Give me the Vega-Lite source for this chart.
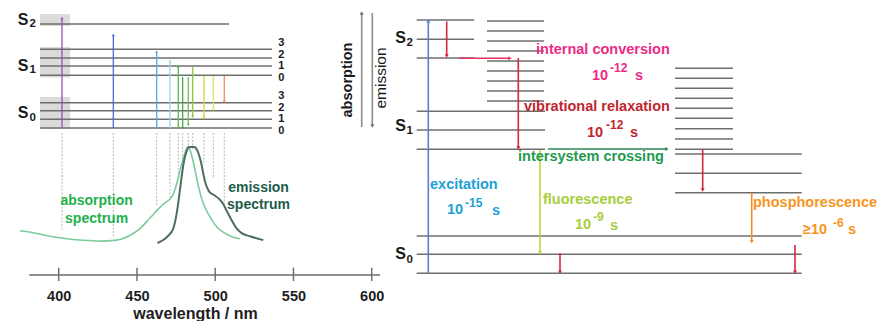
{
  "$schema": "https://vega.github.io/schema/vega-lite/v6.json",
  "width": 878,
  "height": 321,
  "autosize": {"type": "none"},
  "padding": 0,
  "background": "white",
  "config": {"view": {"stroke": null}, "font": "Liberation Sans"},
  "datasets": {
    "spectra": [
      {"kind": "absorption", "nm": 375.3, "a": 0.128},
      {"kind": "absorption", "nm": 383.8, "a": 0.107},
      {"kind": "absorption", "nm": 394.4, "a": 0.07},
      {"kind": "absorption", "nm": 405.1, "a": 0.045},
      {"kind": "absorption", "nm": 415.7, "a": 0.028},
      {"kind": "absorption", "nm": 426.4, "a": 0.02},
      {"kind": "absorption", "nm": 437.1, "a": 0.03},
      {"kind": "absorption", "nm": 445.6, "a": 0.08},
      {"kind": "absorption", "nm": 451.9, "a": 0.15},
      {"kind": "absorption", "nm": 458.3, "a": 0.26},
      {"kind": "absorption", "nm": 463.4, "a": 0.35},
      {"kind": "absorption", "nm": 467.2, "a": 0.41},
      {"kind": "absorption", "nm": 470.2, "a": 0.445},
      {"kind": "absorption", "nm": 471.8, "a": 0.47},
      {"kind": "absorption", "nm": 473.7, "a": 0.53},
      {"kind": "absorption", "nm": 475.6, "a": 0.63},
      {"kind": "absorption", "nm": 477.5, "a": 0.75},
      {"kind": "absorption", "nm": 479.2, "a": 0.86},
      {"kind": "absorption", "nm": 480.7, "a": 0.94},
      {"kind": "absorption", "nm": 482.3, "a": 1.0},
      {"kind": "absorption", "nm": 483.9, "a": 0.97},
      {"kind": "absorption", "nm": 485.5, "a": 0.88},
      {"kind": "absorption", "nm": 487.1, "a": 0.76},
      {"kind": "absorption", "nm": 489.0, "a": 0.61},
      {"kind": "absorption", "nm": 491.2, "a": 0.47},
      {"kind": "absorption", "nm": 493.5, "a": 0.37},
      {"kind": "absorption", "nm": 495.7, "a": 0.3},
      {"kind": "absorption", "nm": 498.6, "a": 0.22},
      {"kind": "absorption", "nm": 501.2, "a": 0.165},
      {"kind": "absorption", "nm": 504.3, "a": 0.12},
      {"kind": "absorption", "nm": 507.5, "a": 0.09},
      {"kind": "absorption", "nm": 511.4, "a": 0.06},
      {"kind": "absorption", "nm": 515.8, "a": 0.045},
      {"kind": "emission", "nm": 463.1, "a": 0.0},
      {"kind": "emission", "nm": 466.8, "a": 0.031},
      {"kind": "emission", "nm": 469.8, "a": 0.073},
      {"kind": "emission", "nm": 473.2, "a": 0.15},
      {"kind": "emission", "nm": 475.9, "a": 0.36},
      {"kind": "emission", "nm": 478.0, "a": 0.62},
      {"kind": "emission", "nm": 479.8, "a": 0.83},
      {"kind": "emission", "nm": 481.8, "a": 0.96},
      {"kind": "emission", "nm": 483.5, "a": 1.0},
      {"kind": "emission", "nm": 486.5, "a": 1.0},
      {"kind": "emission", "nm": 488.7, "a": 0.96},
      {"kind": "emission", "nm": 490.8, "a": 0.85},
      {"kind": "emission", "nm": 493.5, "a": 0.64},
      {"kind": "emission", "nm": 496.4, "a": 0.53},
      {"kind": "emission", "nm": 499.2, "a": 0.5},
      {"kind": "emission", "nm": 502.4, "a": 0.46},
      {"kind": "emission", "nm": 505.0, "a": 0.41},
      {"kind": "emission", "nm": 507.5, "a": 0.33},
      {"kind": "emission", "nm": 510.4, "a": 0.24},
      {"kind": "emission", "nm": 513.3, "a": 0.16},
      {"kind": "emission", "nm": 517.1, "a": 0.1},
      {"kind": "emission", "nm": 522.2, "a": 0.07},
      {"kind": "emission", "nm": 530.7, "a": 0.03}
    ],
    "spectrumLabels": [
      {"kind": "absorption", "text": "absorption", "nm": 424.2, "a": 0.435},
      {"kind": "absorption", "text": "spectrum", "nm": 424.2, "a": 0.255},
      {"kind": "emission", "text": "emission", "nm": 527.7, "a": 0.575},
      {"kind": "emission", "text": "spectrum", "nm": 527.7, "a": 0.4}
    ],
    "ticks": [{"nm": 400}, {"nm": 450}, {"nm": 500}, {"nm": 550}, {"nm": 600}],
    "axisLine": [{"from": 381.2, "to": 605.3}],
    "levelsL": [
      {"state": "S2", "v": 0, "nm0": 388.1, "nm1": 508.8, "e": 10.4},
      {"state": "S1", "v": 3, "nm0": 388.1, "nm1": 536.3, "e": 7.87},
      {"state": "S1", "v": 2, "nm0": 388.1, "nm1": 536.3, "e": 7.0},
      {"state": "S1", "v": 1, "nm0": 388.1, "nm1": 536.3, "e": 6.2},
      {"state": "S1", "v": 0, "nm0": 388.1, "nm1": 536.3, "e": 5.27},
      {"state": "S0", "v": 3, "nm0": 388.1, "nm1": 536.3, "e": 2.53},
      {"state": "S0", "v": 2, "nm0": 388.1, "nm1": 536.3, "e": 1.73},
      {"state": "S0", "v": 1, "nm0": 388.1, "nm1": 536.3, "e": 0.87},
      {"state": "S0", "v": 0, "nm0": 388.1, "nm1": 536.3, "e": 0.0}
    ],
    "bandsL": [
      {"state": "S2", "nm0": 388.1, "nm1": 407.3, "e0": 11.4, "e1": 10.2},
      {"state": "S1", "nm0": 388.1, "nm1": 407.3, "e0": 8.1, "e1": 5.05},
      {"state": "S0", "nm0": 388.1, "nm1": 407.3, "e0": 3.1, "e1": -0.1}
    ],
    "transL": [
      {"wl": 402.1, "e0": 0, "e1": 11.0, "dir": "up"},
      {"wl": 434.9, "e0": 0, "e1": 9.3, "dir": "up"},
      {"wl": 462.6, "e0": 0, "e1": 7.63, "dir": "up"},
      {"wl": 471.1, "e0": 0, "e1": 6.7, "dir": "up"},
      {"wl": 476.4, "e0": 0, "e1": 6.13, "dir": "up"},
      {"wl": 479.2, "e0": 5.1, "e1": 0.0, "dir": "down"},
      {"wl": 482.8, "e0": 5.1, "e1": 0.3, "dir": "down"},
      {"wl": 485.6, "e0": 6.13, "e1": 1.13, "dir": "down"},
      {"wl": 492.8, "e0": 5.2, "e1": 1.0, "dir": "down"},
      {"wl": 498.8, "e0": 5.2, "e1": 1.8, "dir": "down"},
      {"wl": 505.8, "e0": 5.2, "e1": 2.63, "dir": "down"}
    ],
    "guidesL": [
      {"wl": 402.1, "e0": -0.5, "e1": -10.2},
      {"wl": 434.9, "e0": -0.5, "e1": -10.9},
      {"wl": 462.6, "e0": -0.5, "e1": -7.7},
      {"wl": 471.1, "e0": -0.5, "e1": -7.0},
      {"wl": 476.4, "e0": -0.5, "e1": -5.0},
      {"wl": 479.2, "e0": -0.5, "e1": -3.8},
      {"wl": 482.8, "e0": -0.5, "e1": -2.2},
      {"wl": 485.6, "e0": -0.5, "e1": -2.2},
      {"wl": 492.8, "e0": -0.5, "e1": -3.7},
      {"wl": 498.8, "e0": -0.5, "e1": -5.0},
      {"wl": 505.8, "e0": -0.5, "e1": -7.6}
    ],
    "labelsL": [
      {"kind": "S", "text": "S", "nm": 380.7, "e": 10.8},
      {"kind": "sub", "text": "2", "nm": 381.3, "e": 10.4},
      {"kind": "S", "text": "S", "nm": 380.7, "e": 6.2},
      {"kind": "sub", "text": "1", "nm": 381.3, "e": 5.85},
      {"kind": "S", "text": "S", "nm": 380.7, "e": 1.5},
      {"kind": "sub", "text": "0", "nm": 381.3, "e": 1.0},
      {"kind": "num", "text": "3", "nm": 542.2, "e": 8.5},
      {"kind": "num", "text": "2", "nm": 542.2, "e": 7.35},
      {"kind": "num", "text": "1", "nm": 542.2, "e": 6.2},
      {"kind": "num", "text": "0", "nm": 542.2, "e": 5.05},
      {"kind": "num", "text": "3", "nm": 542.2, "e": 3.18},
      {"kind": "num", "text": "2", "nm": 542.2, "e": 2.03},
      {"kind": "num", "text": "1", "nm": 542.2, "e": 0.88},
      {"kind": "num", "text": "0", "nm": 542.2, "e": -0.27}
    ],
    "levelsR": [
      {"state": "S2", "x0": 0, "x1": 5.73, "e": 25.33},
      {"state": "S2", "x0": 0, "x1": 5.73, "e": 23.4},
      {"state": "S2", "x0": 0, "x1": 5.73, "e": 21.53},
      {"state": "S1*", "x0": 7.03, "x1": 12.73, "e": 25.23},
      {"state": "S1*", "x0": 7.03, "x1": 12.73, "e": 24.23},
      {"state": "S1*", "x0": 7.03, "x1": 12.73, "e": 23.23},
      {"state": "S1*", "x0": 7.03, "x1": 12.73, "e": 22.23},
      {"state": "S1*", "x0": 7.03, "x1": 12.73, "e": 21.23},
      {"state": "S1*", "x0": 7.03, "x1": 12.73, "e": 20.23},
      {"state": "S1*", "x0": 7.03, "x1": 12.73, "e": 19.23},
      {"state": "S1*", "x0": 7.03, "x1": 12.73, "e": 18.23},
      {"state": "S1*", "x0": 7.03, "x1": 12.73, "e": 17.23},
      {"state": "S1", "x0": 0, "x1": 12.83, "e": 16.2},
      {"state": "S1", "x0": 0, "x1": 12.83, "e": 14.33},
      {"state": "S1", "x0": 0, "x1": 12.83, "e": 12.4},
      {"state": "T1*", "x0": 25.83, "x1": 31.63, "e": 20.5},
      {"state": "T1*", "x0": 25.83, "x1": 31.63, "e": 19.5},
      {"state": "T1*", "x0": 25.83, "x1": 31.63, "e": 18.5},
      {"state": "T1*", "x0": 25.83, "x1": 31.63, "e": 17.5},
      {"state": "T1*", "x0": 25.83, "x1": 31.63, "e": 16.5},
      {"state": "T1*", "x0": 25.83, "x1": 31.63, "e": 15.5},
      {"state": "T1*", "x0": 25.83, "x1": 31.63, "e": 14.45},
      {"state": "T1*", "x0": 25.83, "x1": 31.63, "e": 13.43},
      {"state": "T1*", "x0": 25.83, "x1": 31.63, "e": 12.4},
      {"state": "T1", "x0": 25.83, "x1": 38.5, "e": 11.93},
      {"state": "T1", "x0": 25.83, "x1": 38.5, "e": 10.0},
      {"state": "T1", "x0": 25.83, "x1": 38.5, "e": 8.06},
      {"state": "S0", "x0": 0, "x1": 38.5, "e": 3.73},
      {"state": "S0", "x0": 0, "x1": 38.5, "e": 1.9},
      {"state": "S0", "x0": 0, "x1": 38.5, "e": 0}
    ],
    "arrowsR": [
      {"process": "excitation", "x0": 1.16, "e0": 0, "x1": 1.16, "e1": 25.23, "dir": "up"},
      {"process": "relaxation", "x0": 3.0, "e0": 25.18, "x1": 3.0, "e1": 21.73, "dir": "down"},
      {"process": "conversion", "x0": 4.26, "e0": 21.5, "x1": 9.33, "e1": 21.5, "dir": "right"},
      {"process": "relaxation", "x0": 10.16, "e0": 21.53, "x1": 10.16, "e1": 12.53, "dir": "down"},
      {"process": "crossing", "x0": 13.13, "e0": 12.43, "x1": 25.03, "e1": 12.43, "dir": "right"},
      {"process": "fluorescence", "x0": 12.33, "e0": 12.33, "x1": 12.33, "e1": 2.06, "dir": "down"},
      {"process": "relaxation", "x0": 14.33, "e0": 2.0, "x1": 14.33, "e1": 0.1, "dir": "down"},
      {"process": "relaxation", "x0": 28.6, "e0": 12.4, "x1": 28.6, "e1": 8.33, "dir": "down"},
      {"process": "phosphorescence", "x0": 33.5, "e0": 8.0, "x1": 33.5, "e1": 3.16, "dir": "down"},
      {"process": "relaxation", "x0": 37.83, "e0": 2.83, "x1": 37.83, "e1": 0.1, "dir": "down"},
      {"process": "absorption", "x0": -5.5, "e0": 14.63, "x1": -5.5, "e1": 26.03, "dir": "up"},
      {"process": "emission", "x0": -4.44, "e0": 26.03, "x1": -4.44, "e1": 14.73, "dir": "down"}
    ],
    "textR": [
      {"process": "conversion", "kind": "main", "text": "internal conversion", "x": 11.93, "e": 22.33},
      {"process": "conversion", "kind": "main", "text": "10", "x": 17.53, "e": 19.73},
      {"process": "conversion", "kind": "sup", "text": "-12", "x": 19.33, "e": 20.53},
      {"process": "conversion", "kind": "main", "text": "s", "x": 21.83, "e": 19.73},
      {"process": "relaxation", "kind": "main", "text": "vibrational relaxation", "x": 10.73, "e": 16.63},
      {"process": "relaxation", "kind": "main", "text": "10", "x": 17.03, "e": 14.06},
      {"process": "relaxation", "kind": "sup", "text": "-12", "x": 18.93, "e": 14.83},
      {"process": "relaxation", "kind": "main", "text": "s", "x": 21.33, "e": 14.06},
      {"process": "crossing", "kind": "main", "text": "intersystem crossing", "x": 10.13, "e": 11.6},
      {"process": "excitation", "kind": "main", "text": "excitation", "x": 1.33, "e": 8.83},
      {"process": "excitation", "kind": "main", "text": "10", "x": 3.03, "e": 6.33},
      {"process": "excitation", "kind": "sup", "text": "-15", "x": 4.83, "e": 7.06},
      {"process": "excitation", "kind": "main", "text": "s", "x": 7.53, "e": 6.26},
      {"process": "fluorescence", "kind": "main", "text": "fluorescence", "x": 12.63, "e": 7.33},
      {"process": "fluorescence", "kind": "main", "text": "10", "x": 15.83, "e": 4.83},
      {"process": "fluorescence", "kind": "sup", "text": "-9", "x": 17.63, "e": 5.63},
      {"process": "fluorescence", "kind": "main", "text": "s", "x": 19.33, "e": 4.73},
      {"process": "phosphorescence", "kind": "main", "text": "phosphorescence", "x": 33.63, "e": 7.0},
      {"process": "phosphorescence", "kind": "main", "text": "≥10", "x": 38.63, "e": 4.33},
      {"process": "phosphorescence", "kind": "sup", "text": "-6", "x": 41.63, "e": 5.06},
      {"process": "phosphorescence", "kind": "main", "text": "s", "x": 43.13, "e": 4.33}
    ],
    "labelsR": [
      {"kind": "S", "text": "S", "x": -1.07, "e": 23.58},
      {"kind": "sub", "text": "2", "x": -1.02, "e": 23.08},
      {"kind": "S", "text": "S", "x": -1.07, "e": 14.78},
      {"kind": "sub", "text": "1", "x": -1.02, "e": 14.23},
      {"kind": "S", "text": "S", "x": -1.07, "e": 1.93},
      {"kind": "sub", "text": "0", "x": -1.02, "e": 1.38}
    ],
    "sideR": [
      {"kind": "absorption", "text": "absorption", "x": -6.87, "e": 19.33},
      {"kind": "emission", "text": "emission", "x": -3.57, "e": 19.53}
    ]
  },
  "layer": [
    {
      "data": {"name": "bandsL"},
      "mark": {"type": "rect", "color": "#bdbdbd", "opacity": 0.55},
      "encoding": {
        "x": {"field": "nm0", "type": "quantitative", "scale": {"domain": [362.49, 923.5], "nice": false, "zero": false}, "axis": null},
        "x2": {"field": "nm1"},
        "y": {"field": "e0", "type": "quantitative", "scale": {"domain": [-19.3, 12.8], "nice": false, "zero": false}, "axis": null},
        "y2": {"field": "e1"}
      }
    },
    {
      "data": {"name": "levelsL"},
      "mark": {"type": "rule", "color": "#6e6e6e", "strokeWidth": 1.4},
      "encoding": {
        "x": {"field": "nm0", "type": "quantitative", "scale": {"domain": [362.49, 923.5], "nice": false, "zero": false}, "axis": null},
        "x2": {"field": "nm1"},
        "y": {"field": "e", "type": "quantitative", "scale": {"domain": [-19.3, 12.8], "nice": false, "zero": false}, "axis": null}
      }
    },
    {
      "data": {"name": "guidesL"},
      "mark": {"type": "rule", "color": "#a4a4a4", "strokeWidth": 0.8, "strokeDash": [2, 1.5]},
      "encoding": {
        "x": {"field": "wl", "type": "quantitative", "scale": {"domain": [362.49, 923.5], "nice": false, "zero": false}, "axis": null},
        "y": {"field": "e0", "type": "quantitative", "scale": {"domain": [-19.3, 12.8], "nice": false, "zero": false}, "axis": null},
        "y2": {"field": "e1"}
      }
    },
    {
      "data": {"name": "transL"},
      "mark": {"type": "rule", "strokeWidth": 1.3},
      "encoding": {
        "x": {"field": "wl", "type": "quantitative", "scale": {"domain": [362.49, 923.5], "nice": false, "zero": false}, "axis": null},
        "y": {"field": "e0", "type": "quantitative", "scale": {"domain": [-19.3, 12.8], "nice": false, "zero": false}, "axis": null},
        "y2": {"field": "e1"},
        "color": {"field": "wl", "type": "ordinal", "legend": null,
          "scale": {"domain": [402.1, 434.9, 462.6, 471.1, 476.4, 479.2, 482.8, 485.6, 492.8, 498.8, 505.8],
                    "range": ["#9450b4", "#4b6ed6", "#5ba6e4", "#9ad5ec", "#55bb4a", "#45b04a", "#6dc24c", "#8fc640", "#c8da2e", "#dfe35a", "#f48a62"]}}
      }
    },
    {
      "data": {"name": "transL"},
      "mark": {"type": "point", "filled": true, "opacity": 1, "size": 9},
      "encoding": {
        "x": {"field": "wl", "type": "quantitative", "scale": {"domain": [362.49, 923.5], "nice": false, "zero": false}, "axis": null},
        "y": {"field": "e1", "type": "quantitative", "scale": {"domain": [-19.3, 12.8], "nice": false, "zero": false}, "axis": null},
        "shape": {"field": "dir", "type": "nominal", "legend": null,
          "scale": {"domain": ["up", "down", "right"], "range": ["triangle-up", "triangle-down", "triangle-right"]}},
        "color": {"field": "wl", "type": "ordinal", "legend": null,
          "scale": {"domain": [402.1, 434.9, 462.6, 471.1, 476.4, 479.2, 482.8, 485.6, 492.8, 498.8, 505.8],
                    "range": ["#9450b4", "#4b6ed6", "#5ba6e4", "#9ad5ec", "#55bb4a", "#45b04a", "#6dc24c", "#8fc640", "#c8da2e", "#dfe35a", "#f48a62"]}}
      }
    },
    {
      "data": {"name": "labelsL"},
      "transform": [{"filter": "datum.kind == 'S'"}],
      "mark": {"type": "text", "font": "Liberation Sans", "fontWeight": "bold", "fontSize": 16, "align": "right", "baseline": "middle", "color": "#1a1a1a"},
      "encoding": {
        "x": {"field": "nm", "type": "quantitative", "scale": {"domain": [362.49, 923.5], "nice": false, "zero": false}, "axis": null},
        "y": {"field": "e", "type": "quantitative", "scale": {"domain": [-19.3, 12.8], "nice": false, "zero": false}, "axis": null},
        "text": {"field": "text"}
      }
    },
    {
      "data": {"name": "labelsL"},
      "transform": [{"filter": "datum.kind == 'sub'"}],
      "mark": {"type": "text", "font": "Liberation Sans", "fontWeight": "bold", "fontSize": 11.5, "align": "left", "baseline": "middle", "color": "#1a1a1a"},
      "encoding": {
        "x": {"field": "nm", "type": "quantitative", "scale": {"domain": [362.49, 923.5], "nice": false, "zero": false}, "axis": null},
        "y": {"field": "e", "type": "quantitative", "scale": {"domain": [-19.3, 12.8], "nice": false, "zero": false}, "axis": null},
        "text": {"field": "text"}
      }
    },
    {
      "data": {"name": "labelsL"},
      "transform": [{"filter": "datum.kind == 'num'"}],
      "mark": {"type": "text", "font": "Liberation Sans", "fontWeight": "bold", "fontSize": 11, "align": "center", "baseline": "middle", "color": "#1a1a1a"},
      "encoding": {
        "x": {"field": "nm", "type": "quantitative", "scale": {"domain": [362.49, 923.5], "nice": false, "zero": false}, "axis": null},
        "y": {"field": "e", "type": "quantitative", "scale": {"domain": [-19.3, 12.8], "nice": false, "zero": false}, "axis": null},
        "text": {"field": "text"}
      }
    },
    {
      "data": {"name": "spectra"},
      "transform": [{"filter": "datum.kind == 'absorption'"}],
      "mark": {"type": "line", "interpolate": "monotone", "color": "#7ccb9d", "strokeWidth": 1.6},
      "encoding": {
        "x": {"field": "nm", "type": "quantitative", "scale": {"domain": [362.49, 923.5], "nice": false, "zero": false},
          "axis": {"orient": "bottom", "offset": -46, "values": [400, 450, 500, 550, 600], "domain": false, "ticks": false, "tickSize": 0, "grid": false,
                   "labelFont": "Liberation Sans", "labelFontSize": 14.5, "labelFontWeight": "bold", "labelColor": "#1e1e1e",
                   "labelBaseline": "alphabetic", "labelPadding": 25, "labelFlush": false, "labelOverlap": false,
                   "title": "wavelength / nm", "titleFont": "Liberation Sans", "titleFontSize": 16, "titleFontWeight": "bold", "titleColor": "#1e1e1e",
                   "titleX": 195, "titleY": 43, "titleAlign": "center", "titleBaseline": "alphabetic"}},
        "y": {"field": "a", "type": "quantitative", "scale": {"domain": [-0.8125, 2.53125], "nice": false, "zero": false}, "axis": null}
      }
    },
    {
      "data": {"name": "spectra"},
      "transform": [{"filter": "datum.kind == 'emission'"}],
      "mark": {"type": "line", "interpolate": "monotone", "color": "#4d6d61", "strokeWidth": 2},
      "encoding": {
        "x": {"field": "nm", "type": "quantitative", "scale": {"domain": [362.49, 923.5], "nice": false, "zero": false}, "axis": null},
        "y": {"field": "a", "type": "quantitative", "scale": {"domain": [-0.8125, 2.53125], "nice": false, "zero": false}, "axis": null}
      }
    },
    {
      "data": {"name": "axisLine"},
      "mark": {"type": "rule", "color": "#6a6a6a", "strokeWidth": 1.6},
      "encoding": {
        "x": {"field": "from", "type": "quantitative", "scale": {"domain": [362.49, 923.5], "nice": false, "zero": false}, "axis": null},
        "x2": {"field": "to"},
        "y": {"datum": -0.333, "type": "quantitative", "scale": {"domain": [-0.8125, 2.53125], "nice": false, "zero": false}, "axis": null}
      }
    },
    {
      "data": {"name": "ticks"},
      "mark": {"type": "rule", "color": "#6a6a6a", "strokeWidth": 1.4},
      "encoding": {
        "x": {"field": "nm", "type": "quantitative", "scale": {"domain": [362.49, 923.5], "nice": false, "zero": false}, "axis": null},
        "y": {"datum": -0.257, "type": "quantitative", "scale": {"domain": [-0.8125, 2.53125], "nice": false, "zero": false}, "axis": null},
        "y2": {"datum": -0.396}
      }
    },
    {
      "data": {"name": "spectrumLabels"},
      "mark": {"type": "text", "font": "Liberation Sans", "fontWeight": "bold", "fontSize": 14, "align": "center", "baseline": "middle"},
      "encoding": {
        "x": {"field": "nm", "type": "quantitative", "scale": {"domain": [362.49, 923.5], "nice": false, "zero": false}, "axis": null},
        "y": {"field": "a", "type": "quantitative", "scale": {"domain": [-0.8125, 2.53125], "nice": false, "zero": false}, "axis": null},
        "text": {"field": "text"},
        "color": {"field": "kind", "type": "nominal", "legend": null,
          "scale": {"domain": ["absorption", "emission"], "range": ["#22b04c", "#1d5c4a"]}}
      }
    },
    {
      "data": {"name": "levelsR"},
      "mark": {"type": "rule", "color": "#6e6e6e", "strokeWidth": 1.4},
      "encoding": {
        "x": {"field": "x0", "type": "quantitative", "scale": {"domain": [-41.67, 46.13], "nice": false, "zero": false}, "axis": null},
        "x2": {"field": "x1"},
        "y": {"field": "e", "type": "quantitative", "scale": {"domain": [-4.77, 27.33], "nice": false, "zero": false}, "axis": null}
      }
    },
    {
      "data": {"name": "arrowsR"},
      "mark": {"type": "rule", "strokeWidth": 1.6},
      "encoding": {
        "x": {"field": "x0", "type": "quantitative", "scale": {"domain": [-41.67, 46.13], "nice": false, "zero": false}, "axis": null},
        "x2": {"field": "x1"},
        "y": {"field": "e0", "type": "quantitative", "scale": {"domain": [-4.77, 27.33], "nice": false, "zero": false}, "axis": null},
        "y2": {"field": "e1"},
        "color": {"field": "process", "type": "nominal", "legend": null,
          "scale": {"domain": ["excitation", "relaxation", "conversion", "crossing", "fluorescence", "phosphorescence", "absorption", "emission"],
                    "range": ["#5b7fd8", "#d3293f", "#ea2f62", "#2b8a57", "#bdd63b", "#f28b30", "#8c8c8c", "#8c8c8c"]}}
      }
    },
    {
      "data": {"name": "arrowsR"},
      "mark": {"type": "point", "filled": true, "opacity": 1, "size": 16},
      "encoding": {
        "x": {"field": "x1", "type": "quantitative", "scale": {"domain": [-41.67, 46.13], "nice": false, "zero": false}, "axis": null},
        "y": {"field": "e1", "type": "quantitative", "scale": {"domain": [-4.77, 27.33], "nice": false, "zero": false}, "axis": null},
        "shape": {"field": "dir", "type": "nominal", "legend": null,
          "scale": {"domain": ["up", "down", "right"], "range": ["triangle-up", "triangle-down", "triangle-right"]}},
        "color": {"field": "process", "type": "nominal", "legend": null,
          "scale": {"domain": ["excitation", "relaxation", "conversion", "crossing", "fluorescence", "phosphorescence", "absorption", "emission"],
                    "range": ["#5b7fd8", "#d3293f", "#ea2f62", "#2b8a57", "#bdd63b", "#f28b30", "#6e6e6e", "#6e6e6e"]}}
      }
    },
    {
      "data": {"name": "textR"},
      "transform": [{"filter": "datum.kind == 'main'"}],
      "mark": {"type": "text", "font": "Liberation Sans", "fontWeight": "bold", "fontSize": 14.5, "align": "left", "baseline": "middle"},
      "encoding": {
        "x": {"field": "x", "type": "quantitative", "scale": {"domain": [-41.67, 46.13], "nice": false, "zero": false}, "axis": null},
        "y": {"field": "e", "type": "quantitative", "scale": {"domain": [-4.77, 27.33], "nice": false, "zero": false}, "axis": null},
        "text": {"field": "text"},
        "color": {"field": "process", "type": "nominal", "legend": null,
          "scale": {"domain": ["excitation", "relaxation", "conversion", "crossing", "fluorescence", "phosphorescence"],
                    "range": ["#1ea0d6", "#c0262e", "#ec2a84", "#1e9a50", "#a9cd3a", "#f7941d"]}}
      }
    },
    {
      "data": {"name": "textR"},
      "transform": [{"filter": "datum.kind == 'sup'"}],
      "mark": {"type": "text", "font": "Liberation Sans", "fontWeight": "bold", "fontSize": 12, "align": "left", "baseline": "middle"},
      "encoding": {
        "x": {"field": "x", "type": "quantitative", "scale": {"domain": [-41.67, 46.13], "nice": false, "zero": false}, "axis": null},
        "y": {"field": "e", "type": "quantitative", "scale": {"domain": [-4.77, 27.33], "nice": false, "zero": false}, "axis": null},
        "text": {"field": "text"},
        "color": {"field": "process", "type": "nominal", "legend": null,
          "scale": {"domain": ["excitation", "relaxation", "conversion", "crossing", "fluorescence", "phosphorescence"],
                    "range": ["#1ea0d6", "#c0262e", "#ec2a84", "#1e9a50", "#a9cd3a", "#f7941d"]}}
      }
    },
    {
      "data": {"name": "labelsR"},
      "transform": [{"filter": "datum.kind == 'S'"}],
      "mark": {"type": "text", "font": "Liberation Sans", "fontWeight": "bold", "fontSize": 16, "align": "right", "baseline": "middle", "color": "#1a1a1a"},
      "encoding": {
        "x": {"field": "x", "type": "quantitative", "scale": {"domain": [-41.67, 46.13], "nice": false, "zero": false}, "axis": null},
        "y": {"field": "e", "type": "quantitative", "scale": {"domain": [-4.77, 27.33], "nice": false, "zero": false}, "axis": null},
        "text": {"field": "text"}
      }
    },
    {
      "data": {"name": "labelsR"},
      "transform": [{"filter": "datum.kind == 'sub'"}],
      "mark": {"type": "text", "font": "Liberation Sans", "fontWeight": "bold", "fontSize": 11.5, "align": "left", "baseline": "middle", "color": "#1a1a1a"},
      "encoding": {
        "x": {"field": "x", "type": "quantitative", "scale": {"domain": [-41.67, 46.13], "nice": false, "zero": false}, "axis": null},
        "y": {"field": "e", "type": "quantitative", "scale": {"domain": [-4.77, 27.33], "nice": false, "zero": false}, "axis": null},
        "text": {"field": "text"}
      }
    },
    {
      "data": {"name": "sideR"},
      "transform": [{"filter": "datum.kind == 'absorption'"}],
      "mark": {"type": "text", "font": "Liberation Sans", "fontWeight": "bold", "fontSize": 14.5, "angle": 270, "align": "center", "baseline": "middle", "color": "#1a1a1a"},
      "encoding": {
        "x": {"field": "x", "type": "quantitative", "scale": {"domain": [-41.67, 46.13], "nice": false, "zero": false}, "axis": null},
        "y": {"field": "e", "type": "quantitative", "scale": {"domain": [-4.77, 27.33], "nice": false, "zero": false}, "axis": null},
        "text": {"field": "text"}
      }
    },
    {
      "data": {"name": "sideR"},
      "transform": [{"filter": "datum.kind == 'emission'"}],
      "mark": {"type": "text", "font": "Liberation Sans", "fontWeight": "normal", "fontSize": 15.5, "angle": 270, "align": "center", "baseline": "middle", "color": "#1a1a1a"},
      "encoding": {
        "x": {"field": "x", "type": "quantitative", "scale": {"domain": [-41.67, 46.13], "nice": false, "zero": false}, "axis": null},
        "y": {"field": "e", "type": "quantitative", "scale": {"domain": [-4.77, 27.33], "nice": false, "zero": false}, "axis": null},
        "text": {"field": "text"}
      }
    }
  ],
  "resolve": {"scale": {"x": "independent", "y": "independent", "color": "independent", "shape": "independent"}}
}
